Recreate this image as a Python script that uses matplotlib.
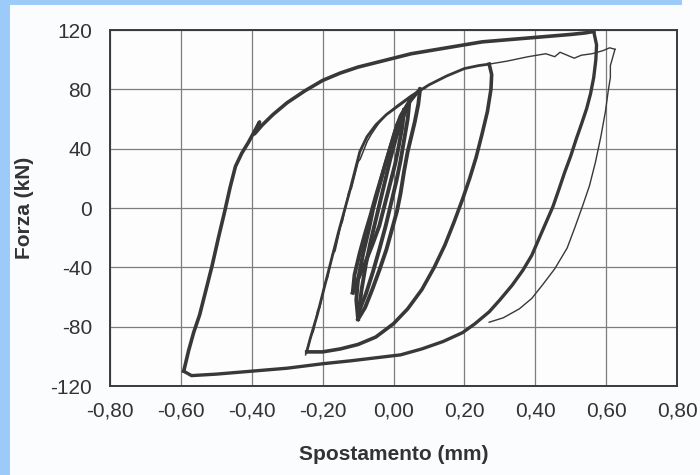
import matplotlib
matplotlib.use("Agg")
import matplotlib.pyplot as plt
from matplotlib.patches import Rectangle
from matplotlib.ticker import FuncFormatter

plt.rcParams["font.family"] = ["Liberation Sans", "DejaVu Sans"]
plt.rcParams["axes.unicode_minus"] = False

# Axis ticks
x_ticks = [-0.8, -0.6, -0.4, -0.2, 0.0, 0.2, 0.4, 0.6, 0.8]
y_ticks = [-120, -80, -40, 0, 40, 80, 120]

# Large cycle: loading branch (bottom-left -> top-right)
outer_up_x = [-0.592, -0.578, -0.564, -0.547, -0.53, -0.512, -0.494, -0.477, -0.461, -0.446,
              -0.428, -0.41, -0.378, -0.392, -0.37, -0.34, -0.30, -0.25, -0.20, -0.15,
              -0.10, -0.05, 0.00, 0.05, 0.10, 0.15, 0.20, 0.25, 0.30, 0.35, 0.40, 0.45,
              0.50, 0.54, 0.565]
outer_up_y = [-110, -96, -84, -72, -56, -39, -20, -3, 14, 28,
              37, 44, 58, 50, 56, 63, 71, 79, 86, 91,
              95, 98, 101, 104, 106, 108, 110, 112, 113, 114, 115, 116,
              117, 118, 119]
# Large cycle: unloading branch (top-right -> bottom-left)
outer_dn_x = [0.565, 0.573, 0.571, 0.565, 0.556, 0.545, 0.531, 0.515, 0.50, 0.483,
              0.466, 0.45, 0.43, 0.41, 0.39, 0.365, 0.335, 0.30, 0.27, 0.23,
              0.195, 0.14, 0.08, 0.02, -0.05, -0.12, -0.20, -0.30, -0.40, -0.50,
              -0.57, -0.592]
outer_dn_y = [119, 110, 100, 88, 77, 67, 57, 46, 35, 24,
              12, 1, -10, -21, -32, -42, -52, -62, -70, -78,
              -84, -90, -95, -99, -101, -103, -105, -108, -110, -112,
              -113, -110]

# First excursion of the large cycle (thin trace)
thin_up_x = [0.27, 0.32, 0.38, 0.43, 0.455, 0.47, 0.49, 0.51, 0.53, 0.56, 0.59, 0.61, 0.625]
thin_up_y = [97, 99, 102, 104, 102, 105, 103, 101, 103, 104, 106, 108, 107]
thin_dn_x = [0.625, 0.612, 0.612, 0.606, 0.598, 0.585, 0.57, 0.553, 0.533, 0.512,
             0.49, 0.455, 0.42, 0.39, 0.355, 0.31, 0.27]
thin_dn_y = [107, 96, 88, 79, 65, 48, 31, 15, 1, -13,
             -27, -41, -52, -61, -68, -74, -77]

# Medium cycle (two passes)
mid_up_x = [-0.245, -0.235, -0.225, -0.215, -0.20, -0.185, -0.17, -0.155, -0.14, -0.125,
            -0.11, -0.095, -0.075, -0.05, -0.02, 0.02, 0.06, 0.10, 0.15, 0.20, 0.24, 0.27]
mid_up_y = [-97, -88, -80, -72, -58, -44, -30, -16, -3, 10,
            24, 38, 48, 56, 63, 70, 77, 83, 89, 94, 96, 97]
mid_dn_x = [0.27, 0.277, 0.275, 0.265, 0.25, 0.233, 0.215, 0.195, 0.17, 0.145,
            0.115, 0.08, 0.04, 0.0, -0.05, -0.10, -0.15, -0.20, -0.245]
mid_dn_y = [97, 90, 80, 65, 50, 34, 20, 6, -10, -25,
            -40, -55, -68, -78, -87, -92, -95, -97, -97]
mid2_up_x = [-0.248, -0.232, -0.226, -0.214, -0.208, -0.194, -0.186, -0.172, -0.165, -0.15,
             -0.144, -0.126, -0.119, -0.10, -0.094, -0.074, -0.062, -0.042, -0.02, 0.01,
             0.05, 0.09]
mid2_up_y = [-99, -86, -83, -69, -67, -51, -47, -31, -29, -13,
             -9, 11, 13, 31, 33, 45, 50, 57, 63, 69,
             76, 81]

# Small cycles (dense bundle near the origin)
small1_up_x = [-0.10, -0.105, -0.10, -0.085, -0.07, -0.057, -0.04, -0.025, -0.01, 0.005,
               0.02, 0.04, 0.06, 0.075]
small1_up_y = [-75, -62, -48, -30, -15, 0, 15, 28, 40, 52, 62, 70, 76, 80]
small1_dn_x = [0.075, 0.07, 0.06, 0.05, 0.04, 0.03, 0.02, 0.01, -0.005, -0.02,
               -0.04, -0.06, -0.08, -0.10]
small1_dn_y = [80, 70, 58, 48, 38, 25, 10, -2, -15, -28, -42, -55, -67, -75]
small2_up_x = [-0.115, -0.11, -0.095, -0.08, -0.065, -0.05, -0.035, -0.02, -0.005, 0.01, 0.03]
small2_up_y = [-57, -45, -30, -17, -5, 8, 20, 32, 44, 56, 66]
small2_dn_x = [0.03, 0.025, 0.015, 0.005, -0.01, -0.025, -0.04, -0.06, -0.08, -0.10, -0.115]
small2_dn_y = [66, 55, 42, 30, 16, 2, -12, -25, -37, -48, -57]
small3_up_x = [-0.098, -0.09, -0.078, -0.064, -0.05, -0.036, -0.022, -0.008, 0.008, 0.025, 0.045]
small3_up_y = [-70, -55, -38, -22, -8, 6, 20, 34, 48, 60, 72]
small3_dn_x = [0.045, 0.04, 0.03, 0.02, 0.008, -0.006, -0.022, -0.04, -0.058, -0.078, -0.098]
small3_dn_y = [72, 60, 46, 32, 18, 4, -12, -28, -43, -58, -70]

fig = plt.figure(figsize=(7.0, 4.75), dpi=100)
fig.patch.set_facecolor("#fbfcfd")
# Light blue border strips
fig.patches.append(Rectangle((0, 0), 10 / 700, 1, transform=fig.transFigure,
                             facecolor="#9ccbfa", edgecolor="none", zorder=0))
fig.patches.append(Rectangle((0, 1 - 5 / 475), 682 / 700, 5 / 475, transform=fig.transFigure,
                             facecolor="#9ccbfa", edgecolor="none", zorder=0))

ax = fig.add_axes([110 / 700, 1 - 386 / 475, 567 / 700, 356 / 475])
ax.set_facecolor("#fdfdfd")
ax.set_xlim(-0.8, 0.8)
ax.set_ylim(-120, 120)
ax.set_xticks(x_ticks)
ax.set_yticks(y_ticks)
ax.xaxis.set_major_formatter(FuncFormatter(lambda v, p: f"{v:.2f}".replace(".", ",")))
ax.yaxis.set_major_formatter(FuncFormatter(lambda v, p: f"{v:.0f}"))
ax.grid(True, color="#7d7d7d", linewidth=0.9)
ax.set_axisbelow(True)
ax.tick_params(length=0, labelsize=15, labelcolor="#333333")
ax.tick_params(axis="y", pad=13)
ax.tick_params(axis="x", pad=11)
for s in ax.spines.values():
    s.set_color("#3a3a3a")
    s.set_linewidth(1.4)

ink = "#383838"
ax.plot(thin_up_x, thin_up_y, color=ink, lw=1.0)
ax.plot(thin_dn_x, thin_dn_y, color=ink, lw=1.0)
ax.plot(outer_up_x, outer_up_y, color=ink, lw=2.6, solid_joinstyle="round")
ax.plot(outer_dn_x, outer_dn_y, color=ink, lw=2.4, solid_joinstyle="round")
ax.plot(mid_up_x, mid_up_y, color=ink, lw=2.0)
ax.plot(mid_dn_x, mid_dn_y, color=ink, lw=2.6)
ax.plot(mid2_up_x, mid2_up_y, color=ink, lw=1.1)
for xs, ys in [(small1_up_x, small1_up_y), (small1_dn_x, small1_dn_y),
               (small2_up_x, small2_up_y), (small2_dn_x, small2_dn_y),
               (small3_up_x, small3_up_y), (small3_dn_x, small3_dn_y)]:
    ax.plot(xs, ys, color=ink, lw=2.8)

ax.set_xlabel("Spostamento (mm)", fontsize=15, fontweight="bold", color="#333333", labelpad=18)
ax.set_ylabel("Forza (kN)", fontsize=15, fontweight="bold", color="#333333", labelpad=12)

fig.savefig("out.png", dpi=100, facecolor=fig.get_facecolor())
